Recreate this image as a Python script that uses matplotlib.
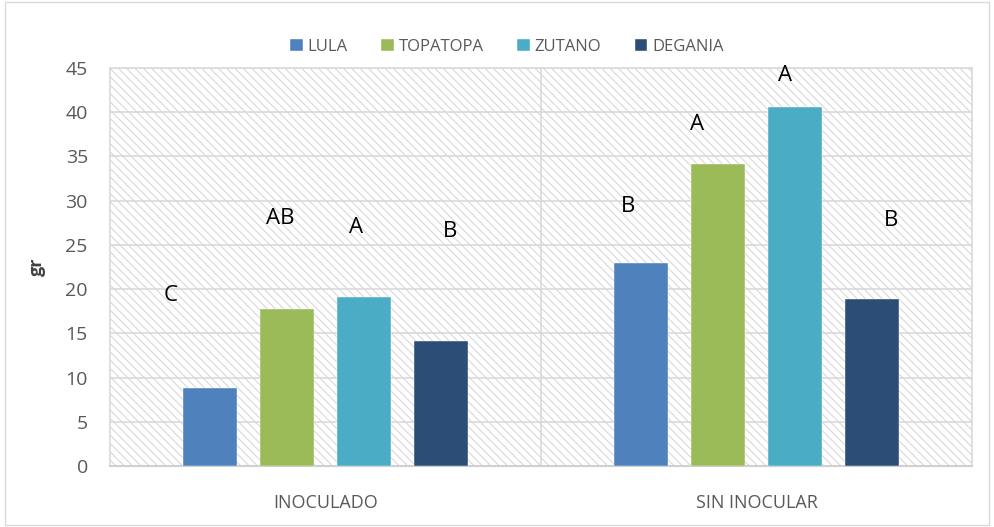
import matplotlib.pyplot as plt
from matplotlib.patches import Rectangle
import numpy as np

plt.rcParams['font.family'] = ['Open Sans', 'DejaVu Sans']
plt.rcParams['hatch.linewidth'] = 0.7
plt.rcParams['hatch.color'] = '#d4d4d4'

# Data
groups = ['INOCULADO', 'SIN INOCULAR']
varieties = ['LULA', 'TOPATOPA', 'ZUTANO', 'DEGANIA']
lula = [8.8, 22.9]
topatopa = [17.7, 34.1]
zutano = [19.1, 40.6]
degania = [14.1, 18.9]
colors = ['#4f81bd', '#9bbb59', '#4bacc6', '#2c4d75']

# significance letters (text, group, x offset, y)
letters = ['C', 'AB', 'A', 'B', 'B', 'A', 'A', 'B']
letter_group = [0, 0, 0, 0, 1, 1, 1, 1]
letter_dx = [-0.36, -0.104, 0.07, 0.288, -0.297, -0.137, 0.067, 0.313]
letter_y = [19.3, 28.0, 27.0, 26.5, 29.3, 38.6, 44.1, 27.8]

fig = plt.figure(figsize=(9.94, 5.27), dpi=100)
ax = fig.add_axes([0.1107, 0.1157, 0.8672, 0.7553])

# outer chart border
fig.patches.append(Rectangle((0.005, 0.004), 0.99, 0.992, transform=fig.transFigure,
                             fill=False, edgecolor='#d9d9d9', linewidth=1))

# hatched plot area
ax.add_patch(Rectangle((0, 0), 1, 1, transform=ax.transAxes, facecolor='white',
                       hatch='\\\\\\\\', edgecolor='#d4d4d4', linewidth=0, zorder=0))

x = np.arange(len(groups))
step = 0.1787
width = 0.125
series = [lula, topatopa, zutano, degania]
for i, (name, vals) in enumerate(zip(varieties, series)):
    ax.bar(x + (i - 1.5) * step, vals, width, color=colors[i], label=name, zorder=3,
           edgecolor='white', linewidth=0.3)

for t, g, dx, y in zip(letters, letter_group, letter_dx, letter_y):
    ax.text(g + dx, y, t, ha='center', va='center', fontsize=16, color='black', zorder=4)

ax.set_xlim(-0.5, 1.5)
ax.set_ylim(0, 45)
ax.set_yticks(range(0, 50, 5))
ax.yaxis.grid(True, color='#d9d9d9', linewidth=1.2, zorder=1)
ax.set_axisbelow(True)
ax.axvline(0.5, color='#d9d9d9', linewidth=1.2, zorder=1)
ax.set_xticks(x)
ax.set_xticklabels(groups)
ax.tick_params(axis='both', length=0, colors='#595959', labelsize=14)
ax.tick_params(axis='x', pad=20, labelsize=13)
ax.tick_params(axis='y', pad=16)
for s in ax.spines.values():
    s.set_color('#d9d9d9')
    s.set_linewidth(1.2)
ax.spines['bottom'].set_color('#d0d0d0')
ax.spines['bottom'].set_linewidth(1.5)

ax.set_ylabel('gr', fontsize=13, fontweight='bold', color='#404040', labelpad=14)

leg = fig.legend(loc='center', bbox_to_anchor=(0.51, 0.911), ncol=4, frameon=False,
                 fontsize=12, handlelength=0.75, handleheight=0.75, handletextpad=0.3,
                 columnspacing=2.0)
for t in leg.get_texts():
    t.set_color('#595959')

fig.savefig('out.png', dpi=100)
